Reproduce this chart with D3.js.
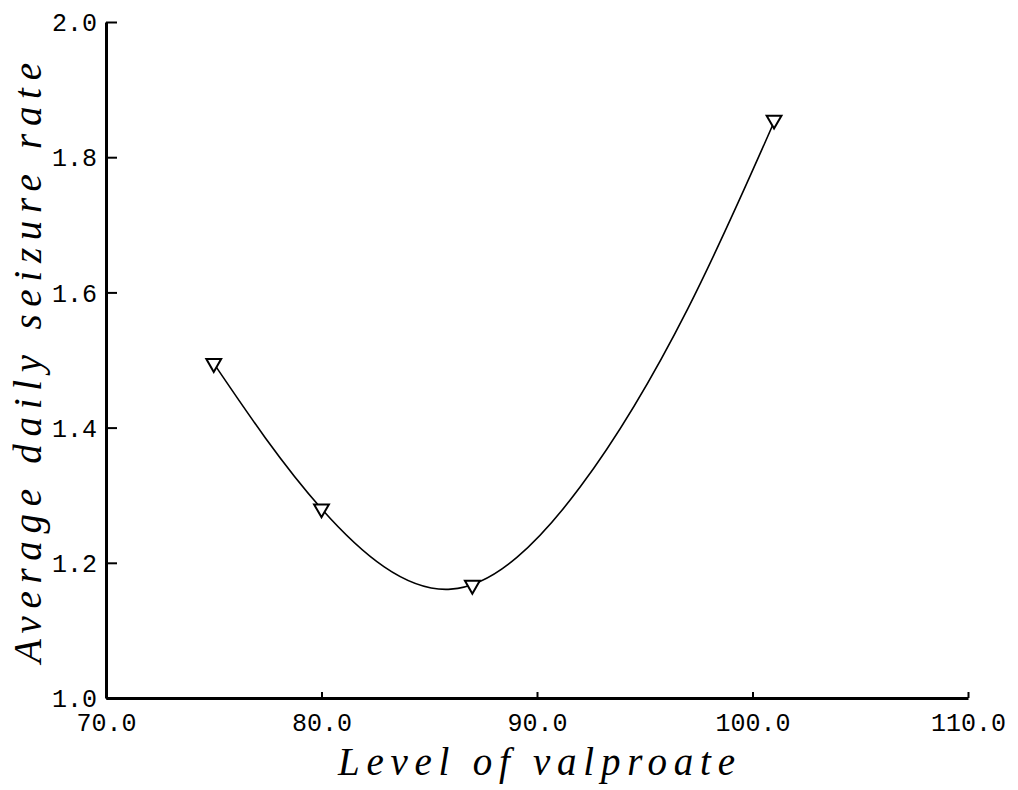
<!DOCTYPE html>
<html>
<head>
<meta charset="utf-8">
<script src="https://cdn.jsdelivr.net/npm/d3@7"></script>
<style>
  body { margin: 0; background: #fff; }
  svg { display: block; }
</style>
</head>
<body>
<svg id="chart" width="1018" height="790"></svg>
<script>
// Observed data points (triangle markers)
const levels = [75, 80, 87, 101];
const rates = [1.495, 1.28, 1.167, 1.855];

// Fitted curve
const curveX = [75, 80, 86, 92, 97, 101];
const curveY = [1.495, 1.28, 1.161, 1.312, 1.576, 1.852];

// Tick values
const xTicks = [70, 80, 90, 100, 110];
const yTicks = [1.0, 1.2, 1.4, 1.6, 1.8, 2.0];

const svg = d3.select('#chart');

// Plot area
const plot = { left: 106, right: 968, top: 22, bottom: 698 };

const x = d3.scaleLinear().domain([70, 110]).range([plot.left, plot.right]);
const y = d3.scaleLinear().domain([1.0, 2.0]).range([plot.bottom, plot.top]);

// X axis
const xAxis = svg.append('g')
  .attr('transform', `translate(0,${plot.bottom})`)
  .call(d3.axisBottom(x)
    .tickValues(xTicks)
    .tickFormat(d3.format('.1f'))
    .tickSizeInner(-6)
    .tickSizeOuter(0)
    .tickPadding(15));

// Y axis
const yAxis = svg.append('g')
  .attr('transform', `translate(${plot.left},0)`)
  .call(d3.axisLeft(y)
    .tickValues(yTicks)
    .tickFormat(d3.format('.1f'))
    .tickSizeInner(-11)
    .tickSizeOuter(0)
    .tickPadding(9));

[xAxis, yAxis].forEach(g => {
  g.select('.domain').attr('stroke', '#000').attr('stroke-width', 3);
  g.selectAll('.tick line').attr('stroke', '#000').attr('stroke-width', 2);
  g.selectAll('.tick text')
    .attr('fill', '#000')
    .style('font-family', '"Liberation Mono", monospace')
    .style('font-size', '25px');
});
yAxis.selectAll('.tick text').attr('dy', '0.35em');

// Fitted curve
const line = d3.line()
  .x(d => x(d[0]))
  .y(d => y(d[1]))
  .curve(d3.curveNatural);

svg.append('path')
  .datum(d3.zip(curveX, curveY))
  .attr('d', line)
  .attr('fill', 'none')
  .attr('stroke', '#000')
  .attr('stroke-width', 1.6);

// Markers: downward triangles
const tri = d3.symbol().type(d3.symbolTriangle).size(95);
svg.selectAll('.marker')
  .data(d3.zip(levels, rates))
  .enter()
  .append('path')
  .attr('class', 'marker')
  .attr('d', tri)
  .attr('transform', d => `translate(${x(d[0])},${y(d[1])}) rotate(180)`)
  .attr('fill', '#fff')
  .attr('stroke', '#000')
  .attr('stroke-width', 2);

// Axis titles
svg.append('text')
  .attr('x', 338)
  .attr('y', 775)
  .attr('textLength', 397)
  .attr('lengthAdjust', 'spacing')
  .style('font-family', '"Liberation Serif", serif')
  .style('font-style', 'italic')
  .style('font-size', '39px')
  .text('Level of valproate');

svg.append('text')
  .attr('transform', 'translate(41,663) rotate(-90)')
  .attr('textLength', 600)
  .attr('lengthAdjust', 'spacing')
  .style('font-family', '"Liberation Serif", serif')
  .style('font-style', 'italic')
  .style('font-size', '39px')
  .text('Average daily seizure rate');
</script>
</body>
</html>
